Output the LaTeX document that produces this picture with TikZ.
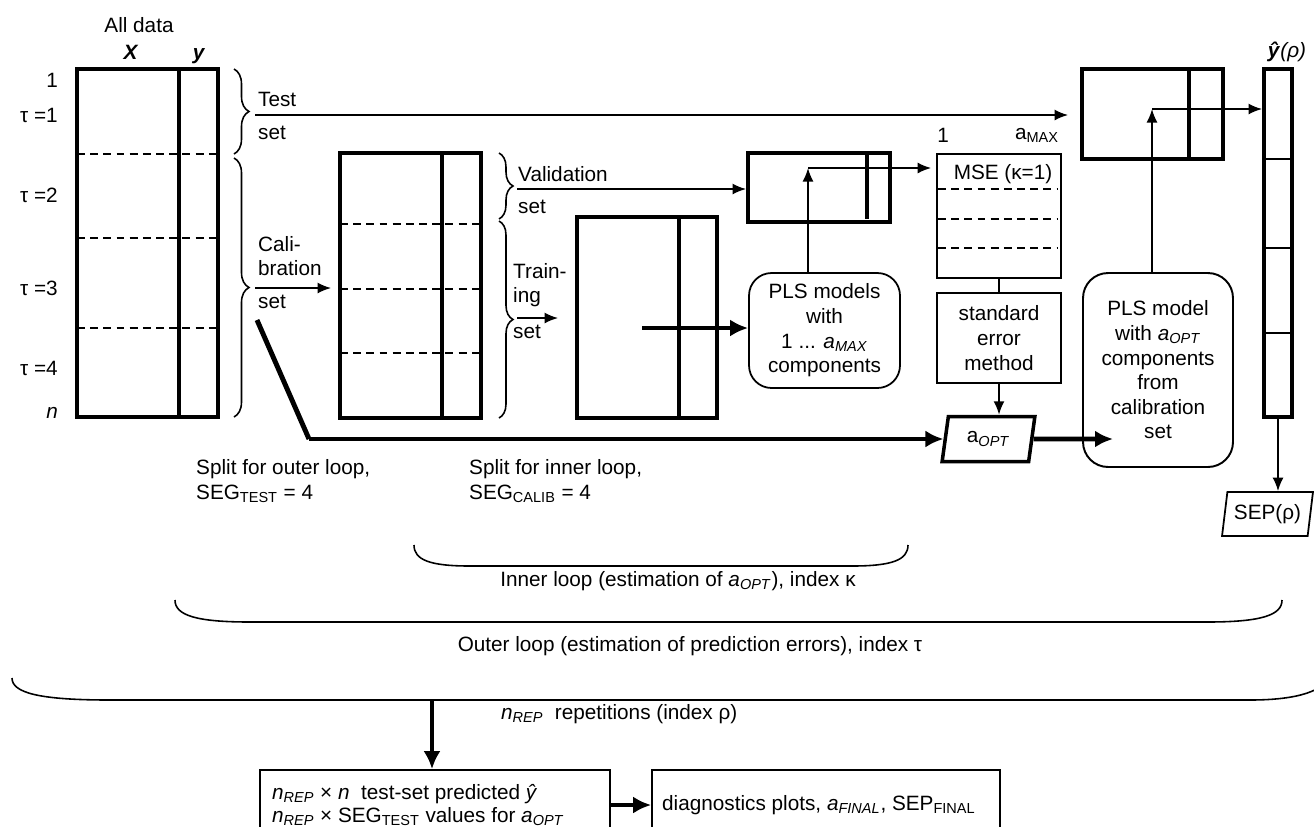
\documentclass[tikz,border=0pt]{standalone}
\usepackage{fontspec}
\setmainfont{Liberation Sans}
\usetikzlibrary{arrows.meta,shapes.geometric,decorations.pathreplacing}

\begin{document}
\begin{tikzpicture}[x=0.02cm,y=-0.02cm,
  font=\fontsize{11.8}{14}\selectfont,
  mat/.style={draw,line width=2.2pt,inner sep=0pt},
  caja/.style={draw,line width=1pt,inner sep=0pt,align=center},
  raya/.style={line width=1.2pt,dash pattern=on 4.5pt off 3pt},
  llave/.style={line width=0.9pt},
  flecha/.style={line width=1pt,-{Latex[length=0.27cm,width=0.22cm]}},
  flechag/.style={line width=2.8pt,-{Latex[length=0.36cm,width=0.34cm]}},
  trap/.style={draw,trapezium,trapezium left angle=77,trapezium right angle=103,
    trapezium stretches=true,inner sep=0pt}]
\useasboundingbox (0,0) rectangle (1314,826);

% Todos los datos
\node[mat,minimum width=2.82cm,minimum height=6.96cm] (todo) at (147.5,243) {};
\draw[line width=2pt] (179,69) -- (179,417);
\foreach \y in {154,238,328} \draw[raya] (77,\y) -- (218,\y);
\node (tit) at (139,25) {All data};
\node[anchor=base] (tx) at (131,59) {\textbf{\textit{X}}};
\node[anchor=base] (ty) at (199,59) {\textbf{\textit{y}}};
\node[anchor=east] (r0) at (64,80) {1};
\node[anchor=east] (r1) at (64,115) {τ =1};
\node[anchor=east] (r2) at (64,195) {τ =2};
\node[anchor=east] (r3) at (64,288) {τ =3};
\node[anchor=east] (r4) at (64,368) {τ =4};
\node[anchor=east] (rn) at (64,413) {\textit{n}};

% Llaves exteriores
\draw[llave,decorate,decoration={brace,amplitude=0.3cm}] (234,69) -- (234,154);
\draw[llave,decorate,decoration={brace,amplitude=0.3cm}] (234,158) -- (234,417);
\coordinate (ptest) at (255,115);
\coordinate (pcal) at (255,288);
\node[anchor=west] (ltest) at (252,99) {Test};
\node[anchor=west] (ltest2) at (252,133) {set};
\node[anchor=west,align=left] (lcal) at (252,256) {Cali-\\bration};
\node[anchor=west] (lcal2) at (252,302) {set};

% Calibracion
\node[mat,minimum width=2.82cm,minimum height=5.3cm] (cal) at (410.5,285.5) {};
\draw[line width=1.8pt] (442,153) -- (442,418);
\foreach \y in {224,289,353} \draw[raya] (340,\y) -- (481,\y);

% Llaves interiores
\draw[llave,decorate,decoration={brace,amplitude=0.28cm}] (499,153) -- (499,219);
\draw[llave,decorate,decoration={brace,amplitude=0.28cm}] (499,221) -- (499,418);
\coordinate (pval) at (517,189);
\coordinate (pent) at (517,318);
\node[anchor=west] (lval) at (512,174) {Validation};
\node[anchor=west] (lval2) at (512,207) {set};
\node[anchor=west,align=left] (lent) at (507,285) {Train-\\ing};
\node[anchor=west] (lent2) at (507,332) {set};

% Entrenamiento y validacion
\node[mat,minimum width=2.8cm,minimum height=4.02cm] (ent) at (647,317.5) {};
\draw[line width=1.8pt] (679,217) -- (679,418);
\node[mat,minimum width=2.84cm,minimum height=1.38cm] (val) at (819,187.5) {};
\draw[line width=2.2pt] (867,153) -- (867,219);
\node[caja,rounded corners=0.45cm,minimum width=3.02cm,minimum height=2.3cm] (plsm) at (824.5,330.5)
  {PLS models\\with\\1 ... \textit{a}\textsubscript{\textit{MAX}}\\components};

% MSE
\node[caja,minimum width=2.48cm,minimum height=2.48cm] (mse) at (999,216) {};
\foreach \y in {189,219,248} \draw[raya,line width=1pt] (938,\y) -- (1057,\y);
\node (lmse) at (1003,174) {MSE (κ=1)};
\node (luno) at (943,135) {1};
\node (lmax) at (1037,135) {a\textsubscript{MAX}};
\node[caja,minimum width=2.48cm,minimum height=1.8cm] (se) at (999,338) {standard\\error\\method};
\node[trap,line width=2pt,minimum width=1.86cm,minimum height=0.9cm] (aopt) at (988.5,439)
  {a\textsubscript{\textit{OPT}}};

% Prueba
\node[mat,minimum width=2.82cm,minimum height=1.8cm] (prueba) at (1152.5,114) {};
\draw[line width=2pt] (1189,69) -- (1189,159);
\node[caja,line width=1.1pt,rounded corners=0.5cm,minimum width=3cm,minimum height=3.88cm] (plso) at (1158,370)
  {PLS model\\with \textit{a}\textsubscript{\textit{OPT}}\\components\\from\\calibration\\set};
\node[mat,minimum width=0.56cm,minimum height=6.96cm] (yhat) at (1278,243) {};
\foreach \y in {159,248,333} \draw[line width=1pt] (1264,\y) -- (1292,\y);
\node (lyhat) at (1287,52) {\textbf{\textit{ŷ}}\textit{(ρ)}};
\node[trap,line width=1pt,minimum width=1.82cm,minimum height=0.88cm] (sep) at (1267.5,514) {SEP(ρ)};

% Flechas
\draw[flecha,shorten >=0.24cm] (ptest) -- (prueba.west |- ptest);
\draw[flecha,shorten >=0.14cm] (pcal) -- (cal.west |- pcal);
\draw[flecha] (pval) -- (val.west |- pval);
\draw[flecha,shorten >=0.34cm] (pent) -- (ent.west |- pent);
\coordinate (e0) at (642,328);
\draw[flechag] (e0) -- (plsm.west |- e0);
\coordinate (v0) at (808,168);
\draw[flecha] (plsm.north -| v0) -- (v0);
\draw[flecha,shorten >=0.1cm] (v0) -- (mse.west |- v0);
\draw[line width=1pt] (mse.south) -- (se.north);
\draw[flecha] (se.south) -- (aopt.north -| se.south);
\coordinate (c0) at (257,320);
\coordinate (c1) at (309,439);
\draw[line width=2.8pt] (c0) -- (c1);
\draw[flechag] (c1) -- (aopt.west |- c1);
\coordinate (a1) at (1113,439);
\draw[flechag] (aopt.east) -- (a1);
\coordinate (p0) at (1152,109);
\draw[flecha] (plso.north -| p0) -- (p0);
\draw[flecha] (p0) -- (yhat.west |- p0);
\draw[flecha] (yhat.south) -- (yhat.south |- sep.north);

% Textos de division
\node[anchor=west,align=left] (souter) at (190,481) {Split for outer loop,\\SEG\textsubscript{TEST} = 4};
\node[anchor=west,align=left] (sinner) at (463,481) {Split for inner loop,\\SEG\textsubscript{CALIB} = 4};

% Bucles
\draw[llave] (414,545) .. controls (414,560) and (430,566) .. (470,566) -- (852,566)
  .. controls (892,566) and (908,560) .. (908,545);
\node (linner) at (678,581) {Inner loop (estimation of \textit{a}\textsubscript{\textit{OPT}}), index κ};
\draw[llave] (175,600) .. controls (175,615) and (195,622) .. (250,622) -- (1207,622)
  .. controls (1262,622) and (1282,615) .. (1282,600);
\node (louter) at (690,646) {Outer loop (estimation of prediction errors), index τ};
\draw[llave] (12,678) .. controls (12,693) and (40,700) .. (110,700) -- (1250,700)
  .. controls (1300,700) and (1325,690) .. (1330,675);
\coordinate (rep) at (432,700);
\node[anchor=west] (lrep) at (495,714) {\textit{n}\textsubscript{\textit{REP}}\ \ repetitions (index ρ)};

% Resultados
\node[caja,minimum width=7cm,minimum height=2cm] (res) at (435,820) {};
\node[anchor=west,align=left,font=\fontsize{11.8}{12.8}\selectfont] (lres) at (266,805)
  {\textit{n}\textsubscript{\textit{REP}} × \textit{n}\ \ test-set predicted \textit{ŷ}\\
   \textit{n}\textsubscript{\textit{REP}} × SEG\textsubscript{TEST} values for \textit{a}\textsubscript{\textit{OPT}}};
\node[caja,minimum width=6.96cm,minimum height=2cm] (diag) at (826,820) {};
\node[anchor=west] (ldiag) at (656,805)
  {diagnostics plots, \textit{a}\textsubscript{\textit{FINAL}}, SEP\textsubscript{FINAL}};
\draw[flechag] (rep) -- (rep |- res.north);
\draw[flechag,line width=2pt] (res.east |- ldiag) -- (diag.west |- ldiag);
\end{tikzpicture}
\end{document}
